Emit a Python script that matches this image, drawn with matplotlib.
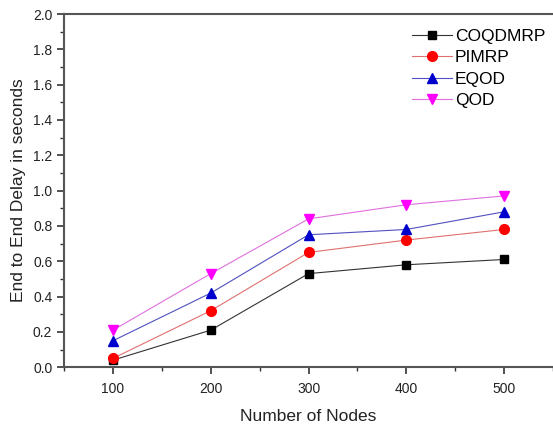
import numpy as np
import matplotlib.pyplot as plt
from matplotlib.ticker import MultipleLocator

plt.rcParams['font.family'] = ['Liberation Sans', 'DejaVu Sans']

nodes = [100, 200, 300, 400, 500]
coqdmrp = [0.04, 0.21, 0.53, 0.58, 0.61]
pimrp = [0.05, 0.32, 0.65, 0.72, 0.78]
eqod = [0.15, 0.42, 0.75, 0.78, 0.88]
qod = [0.21, 0.53, 0.84, 0.92, 0.97]

fig = plt.figure(figsize=(5.53, 4.25), dpi=100)
ax = fig.add_axes([0.116, 0.136, 0.884, 0.831])

ax.plot(nodes, coqdmrp, color='#333333', lw=0.8, marker='s', ms=6, mfc='black', mec='black', label='COQDMRP')
ax.plot(nodes, pimrp, color='#e07070', lw=0.8, marker='o', ms=7, mfc='red', mec='red', label='PIMRP')
ax.plot(nodes, eqod, color='#5050c0', lw=0.8, marker='^', ms=7, mfc='#0000cc', mec='#0000cc', label='EQOD')
ax.plot(nodes, qod, color='#e070e0', lw=0.8, marker='v', ms=7, mfc='magenta', mec='magenta', label='QOD')

ax.set_xlim(50, 550)
ax.set_ylim(0, 2.0)
ax.xaxis.set_major_locator(MultipleLocator(100))
ax.xaxis.set_minor_locator(MultipleLocator(50))
ax.yaxis.set_major_locator(MultipleLocator(0.2))
ax.yaxis.set_minor_locator(MultipleLocator(0.1))
ax.yaxis.set_major_formatter(plt.FormatStrFormatter('%.1f'))
ax.tick_params(which='both', direction='out', top=False, right=False, color='#333333', labelsize=10, labelcolor='#222222')
ax.tick_params(which='major', length=5, width=1.2)
ax.tick_params(axis='x', which='major', pad=6)
ax.tick_params(which='minor', length=3, width=1.0)
for s in ax.spines.values():
    s.set_color('#555555')
    s.set_linewidth(1.5)
ax.spines['right'].set_linewidth(0.6)
ax.spines['right'].set_color('#cccccc')

ax.set_xlabel('Number of Nodes', fontsize=12.5, labelpad=9, color='#222222')
ax.set_ylabel('End to End Delay in seconds', fontsize=12.5, labelpad=5, color='#222222')

ax.legend(loc='upper left', bbox_to_anchor=(0.712, 0.958), frameon=False, fontsize=12.5,
          borderpad=0, borderaxespad=0, handlelength=2.3, handletextpad=0.15, labelspacing=0.36)

fig.savefig('out.png', dpi=100)
